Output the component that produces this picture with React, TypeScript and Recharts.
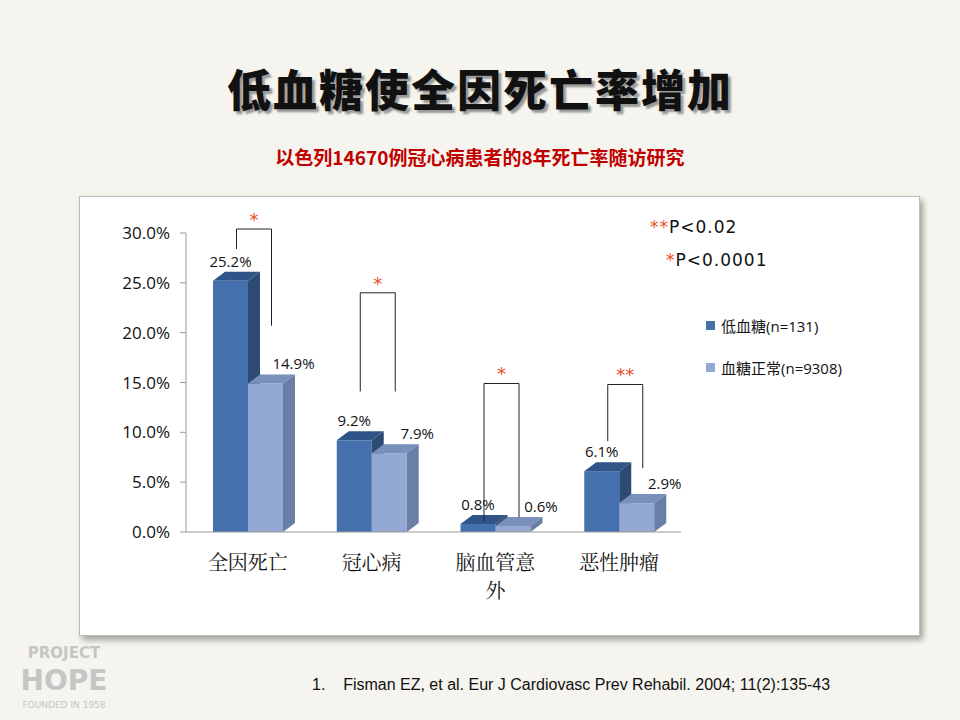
import React from 'react'
import { Bar, BarChart, XAxis, YAxis } from 'recharts'

const categories = ['全因死亡', '冠心病', '脑血管意外', '恶性肿瘤']
const tickLines = [['全因死亡'], ['冠心病'], ['脑血管意', '外'], ['恶性肿瘤']]
const hypo = [25.2, 9.2, 0.8, 6.1]
const normal = [14.9, 7.9, 0.6, 2.9]
const yTicks = [0, 5, 10, 15, 20, 25, 30]
const marks = ['*', '*', '*', '**']
const bracketTop = [30.4, 24, 14.9, 14.8]
const bracketLeft = [28.4, 14.1, 1.1, 9.1]
const bracketRight = [20.7, 14.1, 1.1, 6.4]

const data = categories.map((c, i) => ({ name: c, hypo: hypo[i], normal: normal[i] }))

const DX = 12
const DY = 9
const CJK = '"Noto Sans CJK SC", sans-serif'

function Bar3D(props: any) {
  const { x, y, width, height, fill, side, top, index, value, withBracket } = props
  const base = y + height
  const px = value > 0 ? height / value : 0
  const toY = (v: number) => base - v * px
  return (
    <g>
      <rect x={x} y={y} width={width} height={height} fill={fill} />
      <polygon points={`${x},${y} ${x + DX},${y - DY} ${x + width + DX},${y - DY} ${x + width},${y}`} fill={top} />
      <polygon points={`${x + width},${y} ${x + width + DX},${y - DY} ${x + width + DX},${base - DY} ${x + width},${base}`} fill={side} />
      {withBracket && (() => {
        const l = x + width / 2 + 6
        const r = x + width * 1.5 + 6
        const t = toY(bracketTop[index])
        return (
          <g>
            <polyline
              points={`${l},${toY(bracketLeft[index])} ${l},${t} ${r},${t} ${r},${toY(bracketRight[index])}`}
              fill="none" stroke="#222" strokeWidth={1}
            />
            <text x={(l + r) / 2} y={t - 3} textAnchor="middle" fill="#e8501e" fontSize={18} fontFamily="DejaVu Sans">
              {marks[index]}
            </text>
          </g>
        )
      })()}
    </g>
  )
}

function ValLabel(props: any) {
  const { x, y, width, value, dx } = props
  return (
    <text x={x + width / 2 + dx} y={y - 14} textAnchor="middle" fontSize={15} fill="#111" fontFamily="Open Sans, sans-serif">
      {value.toFixed(1)}%
    </text>
  )
}

function Tick(props: any) {
  const { x, y, index } = props
  return (
    <g>
      {tickLines[index].map((t, k) => (
        <text key={k} x={x} y={y + 30 + k * 28} textAnchor="middle" fontSize={20} fill="#111" fontFamily='"Noto Serif CJK SC", "Noto Sans CJK SC", serif'>
          {t}
        </text>
      ))}
    </g>
  )
}

export default function App() {
  return (
    <div style={{ position: 'fixed', left: 0, top: 0, width: 960, height: 720, background: '#f6f4ee', overflow: 'hidden' }}>
      <div style={{ position: 'absolute', top: 56, width: 960, textAlign: 'center', fontFamily: CJK, fontWeight: 900, fontSize: 44, letterSpacing: 2, color: '#111', textShadow: '3px 3px 2px #999' }}>
        低血糖使全因死亡率增加
      </div>
      <div style={{ position: 'absolute', top: 143, width: 960, textAlign: 'center', fontFamily: CJK, fontWeight: 700, fontSize: 19, color: '#c00000' }}>
        以色列14670例冠心病患者的8年死亡率随访研究
      </div>
      <div style={{ position: 'absolute', left: 79, top: 196, width: 839, height: 438, background: '#fff', border: '1px solid #bbb', boxShadow: '3px 4px 6px rgba(0,0,0,0.35)' }}>
        <BarChart width={839} height={438} data={data} margin={{ top: 36, right: 238, bottom: 73, left: 46 }} barGap={0} barSize={35}>
          <YAxis domain={[0, 30]} ticks={yTicks} tickFormatter={(v: number) => v.toFixed(1) + '%'} axisLine={{ stroke: '#999' }} tickLine={{ stroke: '#999' }}
            tick={{ fill: '#111', fontSize: 17, fontFamily: 'Open Sans, sans-serif' }} tickMargin={10} />
          <XAxis dataKey="name" tick={<Tick />} interval={0} axisLine={{ stroke: '#999' }} tickLine={false} />
          <Bar dataKey="hypo" fill="#4470ad" isAnimationActive={false}
            shape={(p: any) => <Bar3D {...p} top="#2f5488" side="#2d4a73" withBracket />}
            label={(p: any) => <ValLabel {...p} dx={0} />} />
          <Bar dataKey="normal" fill="#93a9d3" isAnimationActive={false}
            shape={(p: any) => <Bar3D {...p} top="#7890bb" side="#6a7fa6" />}
            label={(p: any) => <ValLabel {...p} dx={28} />} />
        </BarChart>
        <div style={{ position: 'absolute', left: 570, top: 20, fontSize: 17, fontFamily: 'DejaVu Sans', color: '#111', letterSpacing: 1 }}>
          <span style={{ color: '#e8501e' }}>**</span>P&lt;0.02
        </div>
        <div style={{ position: 'absolute', left: 586, top: 53, fontSize: 17, fontFamily: 'DejaVu Sans', color: '#111', letterSpacing: 1 }}>
          <span style={{ color: '#e8501e' }}>*</span>P&lt;0.0001
        </div>
        {[['#4470ad', '低血糖', '(n=131)', 118], ['#93a9d3', '血糖正常', '(n=9308)', 160]].map(([c, a, b, t]) => (
          <div key={a as string} style={{ position: 'absolute', left: 626, top: t as number, display: 'flex', alignItems: 'center', fontSize: 15, color: '#111' }}>
            <span style={{ width: 9, height: 9, background: c as string, marginRight: 6 }} />
            <span style={{ fontFamily: CJK }}>{a}</span>
            <span style={{ fontFamily: 'Open Sans, sans-serif' }}>{b}</span>
          </div>
        ))}
      </div>
      <div style={{ position: 'absolute', left: 6, top: 643, width: 116, fontFamily: 'DejaVu Sans', fontWeight: 900, color: '#c5c5c5', textAlign: 'center' }}>
        <div style={{ fontSize: 15, lineHeight: '20px' }}>PROJECT</div>
        <div style={{ fontSize: 28, lineHeight: '36px' }}>HOPE</div>
        <div style={{ fontSize: 9, lineHeight: '12px', fontWeight: 400 }}>FOUNDED IN 1958</div>
      </div>
      <div style={{ position: 'absolute', left: 312, top: 676, fontFamily: 'Liberation Sans, Arial', fontSize: 16, color: '#111' }}>
        1.&nbsp;&nbsp;&nbsp;&nbsp;Fisman EZ, et al. Eur J Cardiovasc Prev Rehabil. 2004; 11(2):135-43
      </div>
    </div>
  )
}
